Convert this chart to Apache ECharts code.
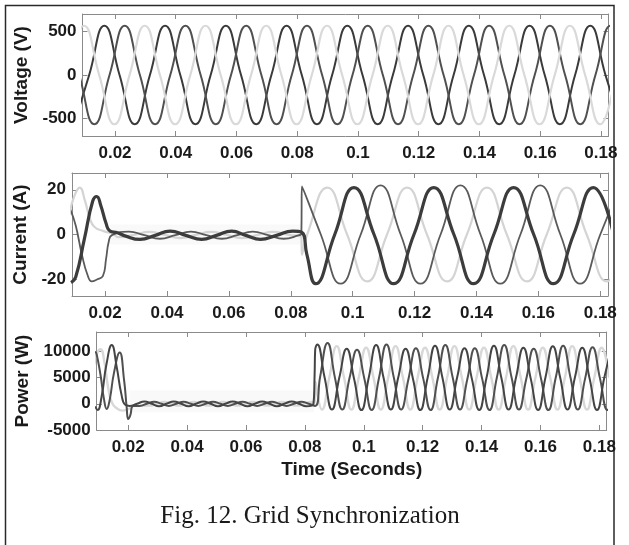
<!DOCTYPE html>
<html><head><meta charset="utf-8">
<script src="https://cdn.jsdelivr.net/npm/echarts@6/dist/echarts.min.js"></script>
<style>html,body{margin:0;padding:0;background:#fff}#c{width:629px;height:545px}</style>
</head><body><div id="c"></div>
<script>
// ---- tick labels ----
const xTicks = [0.02,0.04,0.06,0.08,0.1,0.12,0.14,0.16,0.18];
const vTicks = [-500,0,500];
const iTicks = [-20,0,20];
const pTicks = [-5000,0,5000,10000];

// ---- Voltage (V): three phases, [time, value] read at peaks / zero crossings ----
const vA = [[0.0065,-565],[0.0115,0],[0.0165,565],[0.0215,0],[0.0265,-565],[0.0315,0],[0.0365,565],[0.0415,0],[0.0465,-565],[0.0515,0],[0.0565,565],[0.0615,0],[0.0665,-565],[0.0715,0],[0.0765,565],[0.0815,0],[0.0865,-565],[0.0915,0],[0.0965,565],[0.1015,0],[0.1065,-565],[0.1115,0],[0.1165,565],[0.1215,0],[0.1265,-565],[0.1315,0],[0.1365,565],[0.1415,0],[0.1465,-565],[0.1515,0],[0.1565,565],[0.1615,0],[0.1665,-565],[0.1715,0],[0.1765,565],[0.1815,0],[0.1865,-565]];
const vB = [[0.0032,565],[0.0082,0],[0.0132,-565],[0.0182,0],[0.0232,565],[0.0282,0],[0.0332,-565],[0.0382,0],[0.0432,565],[0.0482,0],[0.0532,-565],[0.0582,0],[0.0632,565],[0.0682,0],[0.0732,-565],[0.0782,0],[0.0832,565],[0.0882,0],[0.0932,-565],[0.0982,0],[0.1032,565],[0.1082,0],[0.1132,-565],[0.1182,0],[0.1232,565],[0.1282,0],[0.1332,-565],[0.1382,0],[0.1432,565],[0.1482,0],[0.1532,-565],[0.1582,0],[0.1632,565],[0.1682,0],[0.1732,-565],[0.1782,0],[0.1832,565],[0.1882,0]];
const vC = [[0.0048,0],[0.0098,565],[0.0148,0],[0.0198,-565],[0.0248,0],[0.0298,565],[0.0348,0],[0.0398,-565],[0.0448,0],[0.0498,565],[0.0548,0],[0.0598,-565],[0.0648,0],[0.0698,565],[0.0748,0],[0.0798,-565],[0.0848,0],[0.0898,565],[0.0948,0],[0.0998,-565],[0.1048,0],[0.1098,565],[0.1148,0],[0.1198,-565],[0.1248,0],[0.1298,565],[0.1348,0],[0.1398,-565],[0.1448,0],[0.1498,565],[0.1548,0],[0.1598,-565],[0.1648,0],[0.1698,565],[0.1748,0],[0.1798,-565],[0.1848,0]];

// ---- Current (A) ----
const iA = [[0.0090,-21.5],[0.0105,-19],[0.0133,-2],[0.0160,15],[0.0173,17],[0.0186,13],[0.0203,5],[0.0216,1.5],[0.0240,0.8],[0.0264,-0.6],[0.0313,-2.2],[0.0362,-0.4],[0.0410,1.5],[0.0461,-0.4],[0.0512,-2.2],[0.0560,-0.4],[0.0609,1.5],[0.0655,-0.4],[0.0702,-2.2],[0.0754,-0.4],[0.0806,1.5],[0.0835,1.0],[0.0852,-9],[0.0880,-22],[0.0942,0],[0.1004,21],[0.1069,0],[0.1133,-22],[0.1198,0],[0.1262,21],[0.1327,0],[0.1391,-22],[0.1456,0],[0.1520,21],[0.1585,0],[0.1649,-22],[0.1714,0],[0.1778,21],[0.1843,0]];
const iB = [[0.0088,11],[0.0105,4],[0.0125,-9],[0.0143,-18],[0.0157,-21],[0.0175,-20],[0.0193,-18.5],[0.0203,-11],[0.0212,-3],[0.0222,-0.3],[0.0277,1.3],[0.0327,-0.3],[0.0377,-1.9],[0.0427,-0.3],[0.0477,1.3],[0.0527,-0.3],[0.0577,-1.9],[0.0627,-0.3],[0.0677,1.3],[0.0727,-0.3],[0.0777,-1.9],[0.0827,-0.3],[0.0834,0.2],[0.0836,21.5],[0.0897,0],[0.0961,-22],[0.1026,0],[0.1090,22],[0.1155,0],[0.1219,-22],[0.1284,0],[0.1348,22],[0.1413,0],[0.1477,-22],[0.1542,0],[0.1606,22],[0.1671,0],[0.1735,-22],[0.1800,0],[0.1864,22]];
const iC = [[0.0085,9],[0.0100,17],[0.0118,21],[0.0135,15],[0.0150,7.5],[0.0165,3.5],[0.0195,1.5],[0.0225,0.4],[0.0243,-1.2],[0.0293,-0.2],[0.0343,1.2],[0.0393,-0.2],[0.0443,-1.6],[0.0493,-0.2],[0.0543,1.2],[0.0593,-0.2],[0.0643,-1.6],[0.0693,-0.2],[0.0743,1.2],[0.0793,-0.2],[0.0834,-1.3],[0.0836,-9],[0.0853,0],[0.0918,21],[0.0982,0],[0.1047,-21],[0.1111,0],[0.1176,21],[0.1240,0],[0.1305,-21],[0.1369,0],[0.1434,21],[0.1498,0],[0.1563,-21],[0.1627,0],[0.1692,21],[0.1756,0],[0.1821,-21],[0.1885,0]];

// ---- Power (W) ----
const pA = [[0.0088,-500],[0.0096,-1200],[0.0110,1500],[0.0126,7500],[0.0144,11200],[0.0161,7000],[0.0177,1800],[0.0190,-200],[0.0205,-400],[0.0230,0],[0.0255,450],[0.0280,0],[0.0305,-450],[0.0330,0],[0.0355,450],[0.0380,0],[0.0405,-450],[0.0430,0],[0.0455,450],[0.0480,0],[0.0505,-450],[0.0530,0],[0.0555,450],[0.0580,0],[0.0605,-450],[0.0630,0],[0.0655,450],[0.0680,0],[0.0705,-450],[0.0730,0],[0.0755,450],[0.0780,0],[0.0805,-450],[0.0829,0],[0.0833,5500],[0.0835,10300],[0.0842,11300],[0.0867,5000],[0.0892,-1100],[0.0917,5000],[0.0942,10500],[0.0967,4800],[0.0992,-1200],[0.1017,5000],[0.1042,11200],[0.1067,5000],[0.1092,-1100],[0.1117,5000],[0.1142,10500],[0.1167,4800],[0.1192,-1200],[0.1217,5000],[0.1242,11100],[0.1267,5000],[0.1292,-1100],[0.1317,5000],[0.1342,10600],[0.1367,4800],[0.1392,-1200],[0.1417,5000],[0.1442,11100],[0.1467,5000],[0.1492,-1100],[0.1517,5000],[0.1542,10700],[0.1567,4800],[0.1592,-1200],[0.1617,5000],[0.1642,11000],[0.1667,5000],[0.1692,-1100],[0.1717,5000],[0.1742,10700],[0.1767,4800],[0.1792,-1200],[0.1817,5000],[0.1842,11000]];
const pB = [[0.0088,10000],[0.0093,9400],[0.0106,5500],[0.0118,800],[0.0127,-1000],[0.0137,700],[0.0152,6000],[0.0171,9800],[0.0186,4500],[0.0195,-800],[0.0200,-2900],[0.0207,-2200],[0.0217,-400],[0.0238,-400],[0.0263,0],[0.0288,400],[0.0313,0],[0.0338,-400],[0.0363,0],[0.0388,400],[0.0413,0],[0.0438,-400],[0.0463,0],[0.0488,400],[0.0513,0],[0.0538,-400],[0.0563,0],[0.0588,400],[0.0613,0],[0.0638,-400],[0.0663,0],[0.0688,400],[0.0713,0],[0.0738,-400],[0.0763,0],[0.0788,400],[0.0813,0],[0.0835,-400],[0.0852,5200],[0.0877,11600],[0.0902,5000],[0.0927,-1100],[0.0952,5000],[0.0977,10300],[0.1002,4800],[0.1027,-1200],[0.1052,5000],[0.1077,11300],[0.1102,5000],[0.1127,-1100],[0.1152,4800],[0.1177,10600],[0.1202,4800],[0.1227,-1200],[0.1252,5000],[0.1277,11200],[0.1302,5000],[0.1327,-1100],[0.1352,4800],[0.1377,10600],[0.1402,4800],[0.1427,-1200],[0.1452,5000],[0.1477,11200],[0.1502,5000],[0.1527,-1100],[0.1552,4800],[0.1577,10500],[0.1602,4800],[0.1627,-1200],[0.1652,5000],[0.1677,11100],[0.1702,5000],[0.1727,-1100],[0.1752,4900],[0.1777,10800],[0.1802,4900],[0.1827,-1200],[0.1852,5000]];
const pC = [[0.0085,7500],[0.0093,9500],[0.0106,10400],[0.0119,8000],[0.0132,3000],[0.0145,200],[0.0160,-800],[0.0180,-1300],[0.0200,-1000],[0.0222,-400],[0.0272,-350],[0.0297,0],[0.0322,350],[0.0347,0],[0.0372,-350],[0.0397,0],[0.0422,350],[0.0447,0],[0.0472,-350],[0.0497,0],[0.0522,350],[0.0547,0],[0.0572,-350],[0.0597,0],[0.0622,350],[0.0647,0],[0.0672,-350],[0.0697,0],[0.0722,350],[0.0747,0],[0.0772,-350],[0.0797,0],[0.0822,350],[0.0834,200],[0.0836,4200],[0.0858,-1100],[0.0883,5000],[0.0908,11000],[0.0933,5000],[0.0958,-1100],[0.0983,5000],[0.1008,10700],[0.1033,5000],[0.1058,-1100],[0.1083,5000],[0.1108,11000],[0.1133,5000],[0.1158,-1100],[0.1183,5000],[0.1208,10700],[0.1233,5000],[0.1258,-1100],[0.1283,5000],[0.1308,11000],[0.1333,5000],[0.1358,-1100],[0.1383,5000],[0.1408,10700],[0.1433,5000],[0.1458,-1100],[0.1483,5000],[0.1508,11000],[0.1533,5000],[0.1558,-1100],[0.1583,5000],[0.1608,10700],[0.1633,5000],[0.1658,-1100],[0.1683,5000],[0.1708,11000],[0.1733,5000],[0.1758,-1100],[0.1783,5000],[0.1808,10700],[0.1833,5000]];

const X_MIN = 0.0093, X_MAX = 0.1825;
const FONT = '"Liberation Sans", Arial, Helvetica, sans-serif';
const LBL = {fontFamily: FONT, fontWeight: 'bold', fontSize: 17, color: '#1a1a1a'};
const NAME = {fontFamily: FONT, fontWeight: 'bold', fontSize: 19, color: '#1a1a1a'};
const AXC = '#8a8a8a';

const panels = [
  {grid:{left:82.5, top:14, width:526, height:122}, y:[-700,700], ticks:vTicks, name:'Voltage (V)', gap:46},
  {grid:{left:72, top:173, width:536, height:123}, y:[-27.5,27.5], ticks:iTicks, name:'Current (A)', gap:37},
  {grid:{left:96.7, top:332, width:510, height:98}, y:[-5000,13700], ticks:pTicks, name:'Power (W)', gap:60}
];

const grid = [], xAxis = [], yAxis = [];
const fmtX = v => String(Math.round(v * 100) / 100);
const fmtY = v => String(Math.round(v));
panels.forEach((p, i) => {
  grid.push(Object.assign({containLabel: false}, p.grid));
  const common = {type:'value', gridIndex:i, splitLine:{show:false},
    axisLine:{show:true, onZero:false, lineStyle:{color:AXC, width:1}}};
  xAxis.push(Object.assign({}, common, {position:'bottom', min:X_MIN, max:X_MAX,
    axisTick:{show:true, inside:true, length:5, customValues:xTicks, lineStyle:{color:AXC}},
    axisLabel:Object.assign({margin:9, customValues:xTicks, formatter:fmtX}, LBL),
    name: i === 2 ? 'Time (Seconds)' : '', nameLocation:'middle', nameGap:30, nameTextStyle:NAME}));
  xAxis.push(Object.assign({}, common, {position:'top', min:X_MIN, max:X_MAX,
    axisTick:{show:true, inside:true, length:5, customValues:xTicks, lineStyle:{color:AXC}},
    axisLabel:{show:false}}));
  yAxis.push(Object.assign({}, common, {position:'left', min:p.y[0], max:p.y[1],
    axisTick:{show:true, inside:true, length:5, customValues:p.ticks, lineStyle:{color:AXC}},
    axisLabel:Object.assign({margin:6, customValues:p.ticks, formatter:fmtY}, LBL),
    name:p.name, nameLocation:'middle', nameGap:p.gap, nameTextStyle:NAME}));
  yAxis.push(Object.assign({}, common, {position:'right', min:p.y[0], max:p.y[1],
    axisTick:{show:true, inside:true, length:5, customValues:p.ticks, lineStyle:{color:AXC}},
    axisLabel:{show:false}}));
});

function line(data, gi, color, width, extra) {
  return Object.assign({type:'line', xAxisIndex:2*gi, yAxisIndex:2*gi, data:data,
    symbol:'none', showSymbol:false, smooth:0.5, clip:true, silent:true,
    lineStyle:{color:color, width:width}}, extra || {});
}
const band = (x0, y0, x1, y1) => ({silent:true, itemStyle:{color:'rgba(0,0,0,0.022)'},
  data:[[{coord:[x0, y0]}, {coord:[x1, y1]}]]});

const series = [
  line(vA, 0, '#3a3a3a', 2),
  line(vB, 0, '#505050', 2),
  line(vC, 0, '#d9d9d9', 2.2),
  line(iC, 1, '#d4d4d4', 2.2, {markArea: band(0.0216, -4.5, 0.0832, 4.5)}),
  line(iB, 1, '#5a5a5a', 1.8),
  line(iA, 1, '#3c3c3c', 3.2),
  line(pC, 2, '#d8d8d8', 2.4, {markArea: band(0.0205, -1600, 0.0832, 2600)}),
  line(pB, 2, '#505050', 2),
  line(pA, 2, '#444444', 2)
];

const chart = echarts.init(document.getElementById('c'), null, {renderer:'canvas'});
chart.setOption({
  animation:false,
  backgroundColor:'#ffffff',
  grid, xAxis, yAxis, series,
  graphic:[
    {type:'rect', silent:true, z:-10, shape:{x:5.5, y:5.5, width:608.5, height:570},
     style:{fill:'none', stroke:'#2a2a2a', lineWidth:1.5}},
    {type:'text', silent:true, x:310, y:516,
     style:{text:'Fig. 12. Grid Synchronization', fontFamily:'"Liberation Serif", "Times New Roman", serif',
            fontSize:25, fill:'#1a1a1a', align:'center', verticalAlign:'middle'}}
  ]
});
</script>
</body></html>
